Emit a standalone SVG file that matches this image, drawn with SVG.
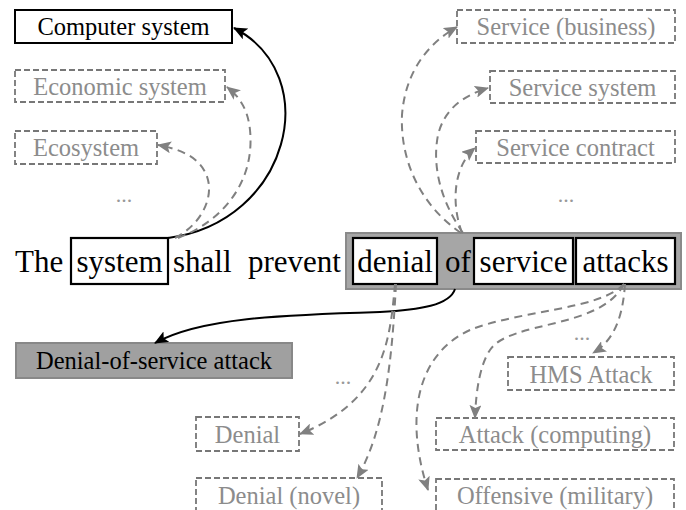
<svg xmlns="http://www.w3.org/2000/svg" width="686" height="510" viewBox="0 0 686 510">
<defs>
<style>
text{font-family:'Liberation Serif','Times New Roman',serif}
.sent{font-size:31px;fill:#000}
.lbl{font-size:24.5px;text-anchor:middle}
.g{fill:#8c8c8c}
.k{fill:#000}
.dash{fill:#fff;stroke:#777;stroke-width:1.8;stroke-dasharray:6,3}
.solid{fill:#fff;stroke:#000;stroke-width:2}
.word{fill:#fff;stroke:#000;stroke-width:2.2}
.cg{fill:none;stroke:#808080;stroke-width:2;stroke-dasharray:8,5.5}
.ck{fill:none;stroke:#000;stroke-width:2}
.dots{font-size:22px;fill:#999;text-anchor:middle}
</style>
<marker id="ag" viewBox="0 0 14 12" refX="13" refY="6" markerWidth="14" markerHeight="12" markerUnits="userSpaceOnUse" orient="auto">
<path d="M0,0 L14,6 L0,12 L3,6 z" fill="#808080"/>
</marker>
<marker id="ak" viewBox="0 0 14 12" refX="13" refY="6" markerWidth="14" markerHeight="12" markerUnits="userSpaceOnUse" orient="auto">
<path d="M0,0 L14,6 L0,12 L3,6 z" fill="#000"/>
</marker>
</defs>
<rect width="686" height="510" fill="#fff"/>

<g id="sentence">
<rect x="346" y="233" width="335" height="56" fill="#a6a6a6" stroke="#8a8a8a" stroke-width="2"/>
<text class="sent" x="15" y="272">The</text>
<text class="sent" x="173" y="272">shall</text>
<text class="sent" x="341" y="272" text-anchor="end">prevent</text>
<text class="sent" x="458" y="272" text-anchor="middle">of</text>
</g>
<g id="w_system">
<rect class="word" x="71" y="238" width="97" height="46"/>
<text class="sent" x="119.5" y="272" text-anchor="middle">system</text>
</g>
<g id="w_denial">
<rect class="word" x="353" y="238" width="84" height="46"/>
<text class="sent" x="395" y="272" text-anchor="middle">denial</text>
</g>
<g id="w_service">
<rect class="word" x="474" y="238" width="99" height="46"/>
<text class="sent" x="523.5" y="272" text-anchor="middle">service</text>
</g>
<g id="w_attacks">
<rect class="word" x="576" y="238" width="99" height="46"/>
<text class="sent" x="625.5" y="272" text-anchor="middle">attacks</text>
</g>

<g id="n_computer">
<rect class="solid" x="15" y="10" width="217" height="33"/>
<text class="lbl k" x="123.5" y="35">Computer system</text>
</g>
<g id="n_economic">
<rect class="dash" x="15" y="70" width="210" height="32"/>
<text class="lbl g" x="120" y="95">Economic system</text>
</g>
<g id="n_ecosystem">
<rect class="dash" x="15" y="131" width="142" height="33"/>
<text class="lbl g" x="86" y="156">Ecosystem</text>
</g>
<g id="n_svc_business">
<rect class="dash" x="457" y="10" width="218" height="33"/>
<text class="lbl g" x="566" y="35">Service (business)</text>
</g>
<g id="n_svc_system">
<rect class="dash" x="490" y="71" width="185" height="32"/>
<text class="lbl g" x="582.5" y="96">Service system</text>
</g>
<g id="n_svc_contract">
<rect class="dash" x="476" y="131" width="199" height="32"/>
<text class="lbl g" x="575.5" y="156">Service contract</text>
</g>
<g id="n_dos">
<rect x="16" y="343" width="276" height="35" fill="#a0a0a0" stroke="#888" stroke-width="2"/>
<text class="lbl k" x="154" y="369">Denial-of-service attack</text>
</g>
<g id="n_denial">
<rect class="dash" x="196" y="417" width="103" height="34"/>
<text class="lbl g" x="247.5" y="443">Denial</text>
</g>
<g id="n_denial_novel">
<rect class="dash" x="196" y="478" width="186" height="34"/>
<text class="lbl g" x="289" y="504">Denial (novel)</text>
</g>
<g id="n_hms">
<rect class="dash" x="508" y="357" width="166" height="33"/>
<text class="lbl g" x="591" y="383">HMS Attack</text>
</g>
<g id="n_attack_comp">
<rect class="dash" x="436" y="418" width="238" height="32"/>
<text class="lbl g" x="555" y="443">Attack (computing)</text>
</g>
<g id="n_offensive">
<rect class="dash" x="436" y="479" width="238" height="34"/>
<text class="lbl g" x="555" y="504">Offensive (military)</text>
</g>

<g id="ellipses">
<text class="dots" x="124" y="202">...</text>
<text class="dots" x="566" y="202">...</text>
<text class="dots" x="343" y="384">...</text>
<text class="dots" x="582" y="340">...</text>
</g>

<g id="connectors">
<path class="ck" d="M168,238 C290,222 325,75 234,28" marker-end="url(#ak)"/>
<path class="cg" d="M178,238 C225,220 255,180 250,130 C248,110 240,97 227,87" marker-end="url(#ag)"/>
<path class="cg" d="M175,238 C200,225 213,200 208,180 C203,160 185,150 158,145" marker-end="url(#ag)"/>
<path class="cg" d="M461,233 C420,205 400,160 402,115 C405,75 425,45 457,27" marker-end="url(#ag)"/>
<path class="cg" d="M463,233 C440,200 432,165 438,135 C444,110 462,96 488,88" marker-end="url(#ag)"/>
<path class="cg" d="M462,233 C450,200 455,165 475,148" marker-end="url(#ag)"/>
<path class="ck" d="M455,289 C450,305 420,310 380,312 C280,315 200,318 155,343" marker-end="url(#ak)"/>
<path class="cg" d="M395,284 C390,340 385,400 300,434" marker-end="url(#ag)"/>
<path class="cg" d="M396,284 C392,360 385,430 357,478" marker-end="url(#ag)"/>
<path class="cg" d="M624,284 C600,310 520,310 470,330 C415,355 405,420 428,490" marker-end="url(#ag)"/>
<path class="cg" d="M624,284 C600,330 510,320 490,350 C480,365 476,390 475,418" marker-end="url(#ag)"/>
<path class="cg" d="M625,284 C623,315 615,340 593,353" marker-end="url(#ag)"/>
</g>
</svg>
